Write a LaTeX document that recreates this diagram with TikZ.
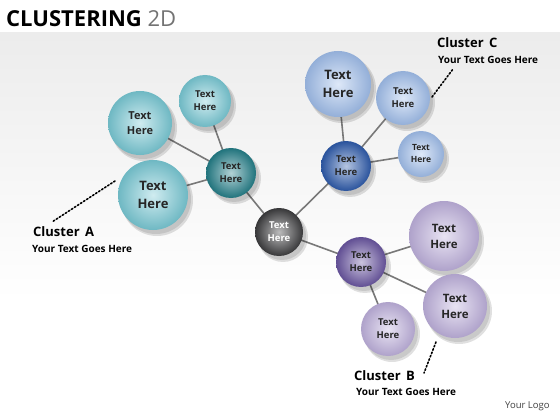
\documentclass[tikz,border=0pt]{standalone}
\usepackage{fontspec}
\setmainfont{Open Sans}
\usetikzlibrary{shadings}
\definecolor{teal1}{RGB}{120,200,212}
\definecolor{tealhub}{RGB}{35,125,135}
\definecolor{blue1}{RGB}{160,190,235}
\definecolor{bluehub}{RGB}{45,90,170}
\definecolor{purp1}{RGB}{190,176,220}
\definecolor{purphub}{RGB}{105,85,160}
\definecolor{darkc}{RGB}{60,60,62}
\definecolor{linec}{RGB}{120,120,120}
\definecolor{bgtop}{RGB}{236,236,236}
\tikzset{
  sph/.style={circle, inner sep=0pt, align=center, font=\bfseries, text=black!85},
  conn/.style={draw=linec, line width=1.6pt},
  dots/.style={line width=1.6pt, dotted, line cap=round},
  lbl/.style={font=\bfseries\fontsize{13}{15}\selectfont, anchor=west, inner sep=0pt},
  sub/.style={font=\bfseries\fontsize{10}{12}\selectfont, anchor=west, inner sep=0pt},
}
\newcommand{\ball}[5]{% name, x, y, radius, color
  \fill[black, opacity=0.12] (#2+4,#3+5) circle (#4+1);
  \fill[black, opacity=0.10] (#2+3,#3+4) circle (#4);
  \shade[inner color=#5!35!white, outer color=#5!92!black] (#2,#3) circle (#4);
  \node[sph, minimum size=2*#4] (#1) at (#2,#3) {};
}
\begin{document}
\begin{tikzpicture}[x=1pt,y=-1pt]
\useasboundingbox (0,0) rectangle (560,420);
\fill[white] (0,0) rectangle (560,420);
\shade[top color=bgtop, bottom color=white] (0,33) rectangle (560,300);
\node[anchor=west, inner sep=0pt, font=\bfseries\fontsize{22}{24}\selectfont] (title) at (6,19) {CLUSTERING \textcolor{black!55}{\mdseries 2D}};
% coordinates for connectors
\coordinate (cC) at (279,232);
\coordinate (hA) at (231,173);
\coordinate (hC) at (346,166);
\coordinate (hB) at (361,262);
\coordinate (a1) at (140,123);
\coordinate (a2) at (205,101);
\coordinate (a3) at (153,195);
\coordinate (c1) at (338,84);
\coordinate (c2) at (403,98);
\coordinate (c3) at (421,154);
\coordinate (b1) at (444,236);
\coordinate (b2) at (455,306);
\coordinate (b3) at (388,329);
\draw[conn] (cC) -- (hA);
\draw[conn] (cC) -- (hC);
\draw[conn] (cC) -- (hB);
\draw[conn] (hA) -- (a1);
\draw[conn] (hA) -- (a2);
\draw[conn] (hA) -- (a3);
\draw[conn] (hC) -- (c1);
\draw[conn] (hC) -- (c2);
\draw[conn] (hC) -- (c3);
\draw[conn] (hB) -- (b1);
\draw[conn] (hB) -- (b2);
\draw[conn] (hB) -- (b3);
% spheres
\ball{A1}{140}{123}{32}{teal1}
\ball{A2}{205}{101}{26}{teal1}
\ball{A3}{153}{195}{35}{teal1}
\ball{HA}{231}{173}{25}{tealhub}
\ball{C1}{338}{84}{33}{blue1}
\ball{C2}{403}{98}{27}{blue1}
\ball{C3}{421}{154}{23}{blue1}
\ball{HC}{346}{166}{25}{bluehub}
\ball{B1}{444}{236}{35}{purp1}
\ball{B2}{455}{306}{32}{purp1}
\ball{B3}{388}{329}{27}{purp1}
\ball{HB}{361}{262}{25}{purphub}
\ball{CC}{279}{232}{24}{darkc}
% texts
\node[sph, font=\bfseries\fontsize{11}{15}\selectfont] (tA1) at (A1) {Text\\Here};
\node[sph, font=\bfseries\fontsize{9.5}{13}\selectfont] (tA2) at (A2) {Text\\Here};
\node[sph, font=\bfseries\fontsize{13}{18}\selectfont] (tA3) at (A3) {Text\\Here};
\node[sph, font=\bfseries\fontsize{9.5}{13}\selectfont] (tHA) at (HA) {Text\\Here};
\node[sph, font=\bfseries\fontsize{13}{18}\selectfont] (tC1) at (C1) {Text\\Here};
\node[sph, font=\bfseries\fontsize{9.5}{13}\selectfont] (tC2) at (C2) {Text\\Here};
\node[sph, font=\bfseries\fontsize{8.5}{12}\selectfont] (tC3) at (C3) {Text\\Here};
\node[sph, font=\bfseries\fontsize{9.5}{13}\selectfont] (tHC) at (HC) {Text\\Here};
\node[sph, font=\bfseries\fontsize{11.5}{16}\selectfont] (tB1) at (B1) {Text\\Here};
\node[sph, font=\bfseries\fontsize{11.5}{16}\selectfont] (tB2) at (B2) {Text\\Here};
\node[sph, font=\bfseries\fontsize{9.5}{13}\selectfont] (tB3) at (B3) {Text\\Here};
\node[sph, font=\bfseries\fontsize{9.5}{13}\selectfont] (tHB) at (HB) {Text\\Here};
\node[sph, text=white, font=\bfseries\fontsize{9.5}{13}\selectfont] (tCC) at (CC) {Text\\Here};
% cluster labels
\coordinate (dA1) at (115,181);
\coordinate (dA2) at (52,222);
\draw[dots] (dA1) -- (dA2);
\node[lbl] (labA) at (33,232) {Cluster\, A};
\node[sub] (subA) at (32,249) {Your Text Goes Here};
\coordinate (dC1) at (432,97);
\coordinate (dC2) at (453,69);
\draw[dots] (dC1) -- (dC2);
\node[lbl] (labC) at (437,43) {Cluster\, C};
\node[sub] (subC) at (438,60) {Your Text Goes Here};
\coordinate (dB1) at (436,342);
\coordinate (dB2) at (424,373);
\draw[dots] (dB1) -- (dB2);
\node[lbl] (labB) at (354,376) {Cluster\, B};
\node[sub] (subB) at (356,392) {Your Text Goes Here};
\node[anchor=west, inner sep=0pt, font=\fontsize{9.5}{11}\selectfont, text=black!75] (logo) at (505,406) {Your Logo};
\end{tikzpicture}
\end{document}
